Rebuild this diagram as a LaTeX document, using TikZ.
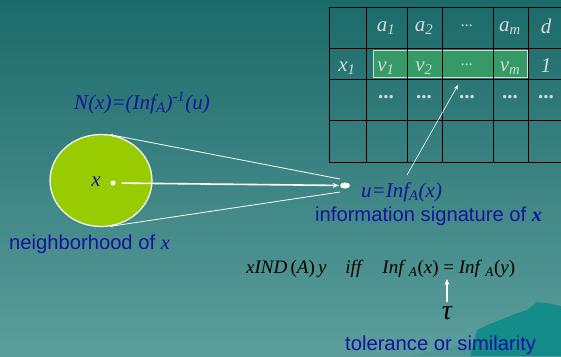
\documentclass[tikz,border=0pt]{standalone}
\usepackage{fontspec}
\setmainfont{Liberation Serif}
\newfontfamily\arialfont{Liberation Sans}
\usepackage{tikz}
\usetikzlibrary{shapes.geometric, positioning, arrows.meta}

\definecolor{bgtop}{HTML}{1C6A6A}
\definecolor{bgbot}{HTML}{5C9E9C}
\definecolor{navy}{HTML}{14149C}
\definecolor{cellgray}{HTML}{D0DCDC}
\definecolor{rowgreen}{HTML}{369A66}
\definecolor{limeg}{HTML}{99CC00}
\definecolor{mount}{HTML}{148C8A}
\definecolor{hill}{HTML}{4F9796}

\tikzset{
	cell/.style={text=cellgray, font=\fontsize{21}{23}\selectfont\itshape, inner sep=0pt},
	bluelbl/.style={text=navy, font=\fontsize{20.2}{24}\selectfont\arialfont, inner sep=0pt, anchor=west},
	mathlbl/.style={text=navy, font=\fontsize{21}{24}\selectfont\itshape, inner sep=0pt},
	wline/.style={white, line width=0.8pt}
}

\begin{document}
\begin{tikzpicture}[x=1pt, y=-1pt]
		\useasboundingbox (0,0) rectangle (561,356);
		% Background
		\shade[top color=bgtop, bottom color=bgbot] (0,0) rectangle (561,356);
		\fill[hill] (410,356) -- (432,351) -- (452,347) -- (468,342) -- (480,345) -- (490,356) -- cycle;
		\fill[mount] (470,356) -- (477,330) -- (490,324) -- (500,320) -- (515,314) -- (527,310) -- (537,302) -- (547,303) -- (561,306) -- (561,356) -- cycle;

		% Decision table: highlighted row, then the grid
		\fill[rowgreen] (373,50) rectangle (527,77);
		\draw[cellgray, line width=0.6pt] (373,50) rectangle (527,77);
		\foreach \cx in {329,366,407,442,493,528,563}
			\draw[black, line width=0.9pt] (\cx,7) -- (\cx,162);
		\foreach \cy in {7,48,79,120,162}
			\draw[black, line width=0.9pt] (329,\cy) -- (563,\cy);

		% Header row
		\node[cell] (ha1) at (386,28) {a\textsubscript{1}};
		\node[cell] (ha2) at (424,28) {a\textsubscript{2}};
		\node[cell, font=\fontsize{16}{18}\selectfont\itshape] (hdots) at (467,26) {...};
		\node[cell] (ham) at (510,28) {a\textsubscript{m}};
		\node[cell] (hd) at (546,26) {d};
		% Object row
		\node[cell] (rx1) at (347,68) {x\textsubscript{1}};
		\node[cell] (rv1) at (386,68) {v\textsubscript{1}};
		\node[cell] (rv2) at (424,68) {v\textsubscript{2}};
		\node[cell, font=\fontsize{16}{18}\selectfont\itshape] (rdots) at (467,65) {...};
		\node[cell] (rvm) at (510,68) {v\textsubscript{m}};
		\node[cell] (rd) at (546,66) {1};
		% Dotted row
		\foreach \cx/\nm in {386/c1,424/c2,467/c3,510/c4,546/c5}
			\node[cell, font=\fontsize{21}{23}\selectfont\bfseries] (dot\nm) at (\cx,97) {...};

		% Neighborhood of x
		\node[ellipse, draw=white, line width=1.2pt, fill=limeg, minimum width=102pt, minimum height=92pt] (nbhd) at (101,180.5) {};
		\node[circle, fill=white, inner sep=0pt, minimum size=5pt] (xdot) at (113,183) {};
		\node[text=navy, font=\fontsize{21}{23}\selectfont\itshape, inner sep=0pt] (xlbl) at (96,182) {x};

		% Information signature point
		\node[ellipse, fill=white, inner sep=0pt, minimum width=10pt, minimum height=6pt] (udot) at (345,185.5) {};
		\coordinate (utop) at (340,179);
		\coordinate (ubot) at (340,192);
		\draw[wline, {Stealth[length=3pt,width=3pt]}-] (nbhd.79) -- (utop);
		\draw[wline, {Stealth[length=3pt,width=3pt]}-] (nbhd.-79) -- (ubot);
		\draw[white, line width=1.6pt, -{Stealth[length=6pt,width=5pt]}, shorten <=6pt, shorten >=1pt] (xdot) -- (udot);

		% Labels
		\node[mathlbl] (nlbl) at (142,103) {N(x)=(Inf\textsubscript{A})\textsuperscript{-1}(u)};
		\node[bluelbl] (nbhdlbl) at (9,244) {neighborhood of \textit{\fontspec{Liberation Serif}x}};
		\node[mathlbl, anchor=west] (sig) at (361,192) {u=Inf\textsubscript{A}(x)};
		\node[bluelbl] (siglbl) at (315,216) {information signature of \textbf{\textit{\fontspec{Liberation Serif}x}}};
		\coordinate (sigfoot) at (407,175);
		\coordinate (vcell) at (458,85);
		\draw[wline, line width=0.6pt, -{Stealth[length=5pt,width=4pt]}] (sigfoot) -- (vcell);

		% Indiscernibility relation
		\node[text=black, font=\fontsize{19}{22}\selectfont, inner sep=0pt, anchor=west] (ind) at (246,269)
			{\textit{xIND}\,(\textit{A})\,\textit{y}\quad\textit{iff}\quad\textit{Inf}\,\textsubscript{\textit{A}}(\textit{x}) = \textit{Inf}\,\textsubscript{\textit{A}}(\textit{y})};
		\node[text=black, font=\fontsize{28}{30}\selectfont\itshape, inner sep=0pt] (tau) at (447,313) {τ};
		\coordinate (eqfoot) at (447,279);
		\draw[white, line width=1.6pt, -{Stealth[length=6pt,width=5pt]}] (447,302) -- (eqfoot);
		\node[bluelbl] (tollbl) at (345,345) {tolerance or similarity};
	\end{tikzpicture}
\end{document}
